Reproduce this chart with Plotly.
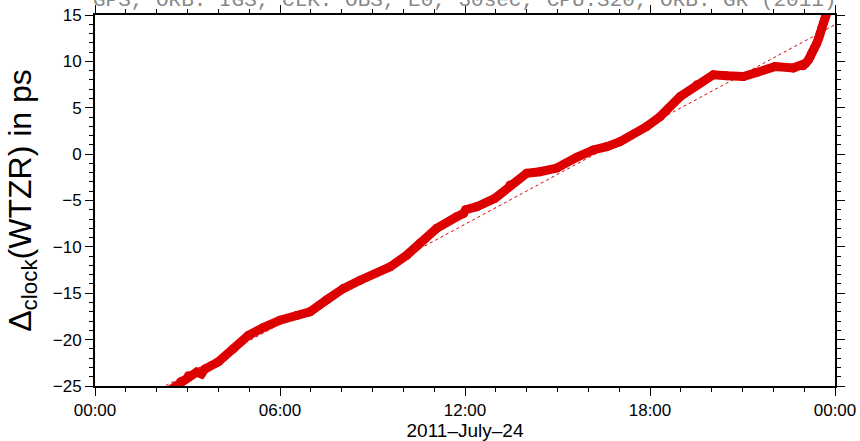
import plotly.graph_objects as go
import pandas as pd

# Hours after 2011-07-24 00:00 and clock offset (ps)
hours = [2.45, 2.8, 3.03, 3.30, 3.45, 3.55, 4.00, 4.49, 4.97, 5.46, 6.00, 6.54, 6.97,
         7.52, 8.05, 8.60, 9.57, 10.11, 10.54, 11.08, 11.73, 11.95, 12.02, 12.38,
         12.97, 13.46, 14.00, 14.43, 14.98, 15.62, 16.16, 16.60, 17.03, 17.89,
         18.33, 18.98, 19.52, 20.05, 20.49, 21.03, 21.46, 22.06, 22.65, 22.97,
         23.05, 23.14, 23.20, 23.25, 23.33, 23.41, 23.47, 23.52, 23.57, 23.62,
         23.66, 23.70, 23.75]
clock = [-25.4, -24.5, -23.9, -23.5, -23.7, -23.2, -22.4, -21.0, -19.55, -18.7,
         -17.9, -17.4, -17.0, -15.7, -14.5, -13.6, -12.15, -10.9, -9.6, -8.0,
         -6.75, -6.4, -6.0, -5.67, -4.76, -3.33, -2.07, -1.9, -1.5, -0.35, 0.45,
         0.81, 1.35, 2.97, 4.05, 6.2, 7.47, 8.55, 8.45, 8.37, 8.8, 9.45, 9.28,
         9.52, 9.8, 10.17, 10.5, 10.9, 11.4, 11.97, 12.5, 13.06, 13.6, 14.14,
         14.5, 14.8, 15.4]

# Linear fit end points (hours, ps)
fit_hours = [2.3, 24.0]
fit_clock = [-24.95, 13.95]

ytick_vals = [-25, -20, -15, -10, -5, 0, 5, 10, 15]
title_text = "GPS, ORB: IGS, CLK: OBS, E0, 30sec, CPU:S20, ORB: GR (2011)"
xlabel = "2011\u2013July\u201324"
ylabel = "\u0394<sub>clock</sub>(WTZR) in ps"

base = pd.Timestamp("2011-07-24 00:00")
to_dt = lambda hs: [base + pd.Timedelta(hours=h) for h in hs]

red = "#dd0000"
fig = go.Figure()
fig.add_trace(go.Scatter(x=to_dt(fit_hours), y=fit_clock, mode="lines",
                         line=dict(color=red, width=1, dash="dot"), showlegend=False))
fig.add_trace(go.Scatter(x=to_dt(hours), y=clock, mode="lines+markers",
                         line=dict(color=red, width=9),
                         marker=dict(color=red, size=9), showlegend=False))

font = "Liberation Sans, Arial, Helvetica, sans-serif"
fig.update_layout(
    width=860, height=441,
    margin=dict(l=95, r=25, t=15, b=55),
    paper_bgcolor="white", plot_bgcolor="white",
    font=dict(family=font, color="black", size=17),
    xaxis=dict(
        type="date", automargin=False,
        range=[base, base + pd.Timedelta(hours=24)],
        tick0=base, dtick=6 * 3600 * 1000, tickformat="%H:%M",
        ticks="outside", ticklen=8, tickwidth=1, tickcolor="black",
        showline=True, linecolor="black", linewidth=2, mirror="ticks",
        showgrid=False, zeroline=False,
        minor=dict(dtick=3600 * 1000, ticks="outside", ticklen=4, tickcolor="black", showgrid=False),
        title=dict(text=xlabel, font=dict(size=19), standoff=0),
        tickfont=dict(size=17),
    ),
    yaxis=dict(
        automargin=False,
        range=[-25, 15], tickvals=ytick_vals,
        ticks="outside", ticklen=8, tickwidth=1, tickcolor="black",
        showline=True, linecolor="black", linewidth=2, mirror="ticks",
        showgrid=False, zeroline=False,
        minor=dict(dtick=1, ticks="outside", ticklen=4, tickcolor="black", showgrid=False),
        title=dict(text=ylabel, font=dict(size=32), standoff=12),
        tickfont=dict(size=17),
    ),
    annotations=[dict(text=title_text, xref="paper", yref="paper", x=0.5, y=1,
                      xanchor="center", yanchor="bottom", yshift=1, showarrow=False,
                      font=dict(family="Liberation Mono, Courier New, monospace", size=21, color="#888888"))],
)
fig.write_html("out.html")
